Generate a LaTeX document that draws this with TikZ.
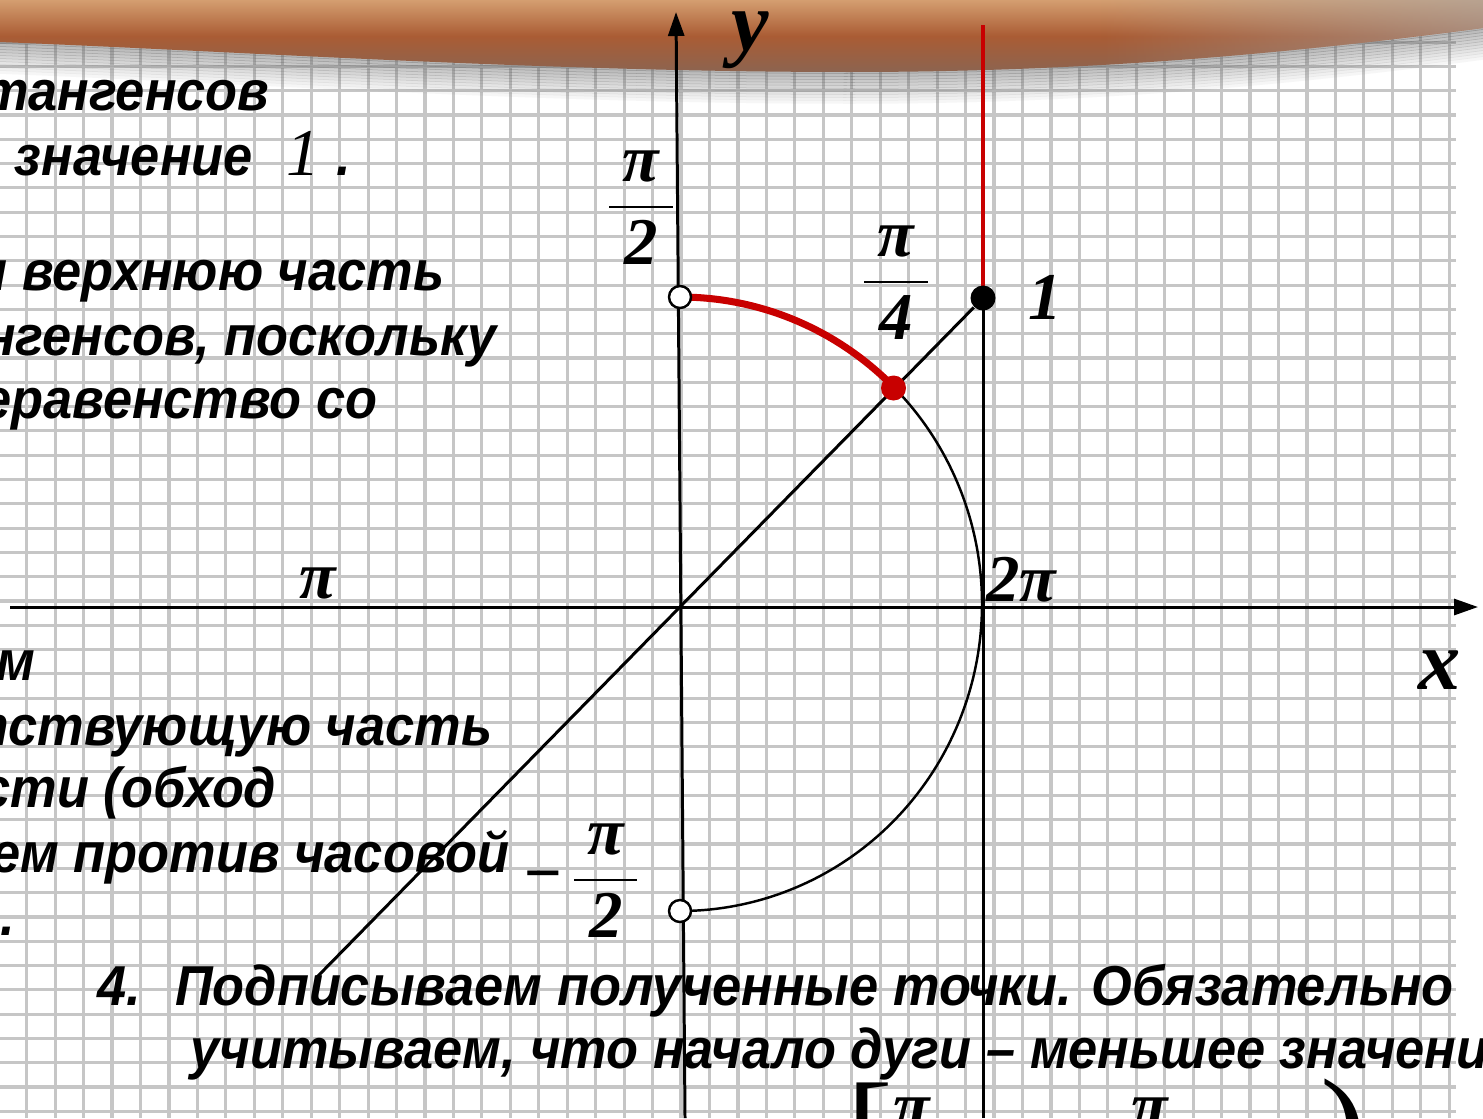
\documentclass[tikz,border=0pt]{standalone}
\usepackage{fontspec}
\setmainfont{Liberation Sans}
\newfontfamily\txtfont{Liberation Sans}[FakeStretch=0.93]
\newfontfamily\timesf{Liberation Serif}
\usetikzlibrary{arrows.meta,fadings}

\definecolor{bandTop}{RGB}{212,158,112}
\definecolor{bandMid}{RGB}{170,92,52}
\definecolor{bandLow}{RGB}{140,100,80}
\definecolor{shadowGray}{RGB}{95,95,95}
\definecolor{gridGray}{RGB}{198,198,198}
\definecolor{redLine}{RGB}{200,0,0}

\tikzfading[name=fadeToLeft, left color=transparent!100, right color=transparent!0]

% phân số dạng cột
\newcommand{\phanso}[2]{{\renewcommand{\arraystretch}{1.05}\setlength{\arrayrulewidth}{0.6pt}%
\begin{tabular}{@{\hspace{0.2em}}c@{\hspace{0.2em}}}#1\\\hline #2\end{tabular}}}

\begin{document}
\begin{tikzpicture}[>={Triangle[length=2.4mm,width=1.6mm]}, x=0.01cm, y=-0.01cm]
	
	% Định dạng các nét vẽ
	\tikzset{
		gridLine/.style={line width=0.9pt, gridGray},
		axisLine/.style={line width=0.85pt, black},
		thinLine/.style={line width=0.7pt, black},
		redArc/.style={line width=2pt, redLine},
		redRay/.style={line width=1.2pt, redLine},
		openDot/.style={circle, draw=black, fill=white, line width=0.7pt, minimum size=0.22cm, inner sep=0pt},
		fullDot/.style={circle, fill=#1, minimum size=0.25cm, inner sep=0pt},
		txt/.style={font=\txtfont\fontsize{16}{19}\selectfont\bfseries\itshape, inner sep=0pt},
		lbl/.style={font=\timesf\fontsize{19}{22}\selectfont\bfseries\itshape, inner sep=0pt},
		axLbl/.style={font=\timesf\fontsize{24}{28}\selectfont\bfseries\itshape, inner sep=0pt}
	}
	
	\useasboundingbox (0,0) rectangle (1483,1118);
	\clip (0,0) rectangle (1483,1118);
	\fill[white] (0,0) rectangle (1483,1118);
	
	% Lưới ô vuông (giấy kẻ ô)
	% Các đường dọc
	\foreach \i in {0,1,...,50} {
		\draw[gridLine] ({26.7+28.45*\i}, 0) -- ({26.7+28.45*\i}, 1118);
	}
	% Các đường ngang
	\foreach \j in {-4,-3,...,41} {
		\draw[gridLine] (0, {115+24.3*\j}) -- (1456, {115+24.3*\j});
	}
	
	% Dải màu nâu phía trên và bóng mờ của nó
	\foreach \k in {0,1,...,10} {
		\draw[line width=0.035cm, shadowGray, opacity={0.45-0.04*\k}, shift={(0,3*\k)}]
		(0,42) .. controls (250,52) and (550,72) .. (850,72) .. controls (1100,72) and (1300,52) .. (1483,28);
	}
	\shade[top color=bandTop, bottom color=bandLow, middle color=bandMid]
	(0,0) -- (1483,0) -- (1483,28) .. controls (1300,52) and (1100,72) .. (850,72)
	.. controls (550,72) and (250,52) .. (0,42) -- cycle;
	\fill[gray!70, path fading=fadeToLeft, opacity=0.6]
	(1100,0) -- (1483,0) -- (1483,28) .. controls (1350,45) and (1200,62) .. (1100,66) -- cycle;
	
	% Các điểm cố định
	\coordinate (O) at (680,607);
	\coordinate (Xl) at (10,607);
	\coordinate (Xr) at (1478,607);
	\coordinate (Yb) at (685,1118);
	\coordinate (Yt) at (676,12);
	\coordinate (Tb) at (983,1118);
	\coordinate (Tt) at (983,25);
	\coordinate (L) at (317,977);
	
	% Trục hoành và trục tung
	\draw[axisLine, ->] (Xl) -- (Xr);
	\draw[axisLine, ->] (Yb) -- (Yt);
	
	% Đường thẳng tang x = 1
	\draw[axisLine] (Tb) -- (983,298);
	\draw[redRay] (983,298) -- (Tt);
	
	% Nửa đường tròn bên phải (từ -pi/2 đến pi/2)
	\draw[thinLine, smooth, domain=-90:45, samples=120]
	plot ({680+302*cos(\x)}, {604-307*sin(\x)});
	% Cung đỏ từ pi/4 đến pi/2
	\draw[redArc, smooth, domain=45:90, samples=60]
	plot ({680+302*cos(\x)}, {604-307*sin(\x)});
	
	% Các điểm trên đường tròn và trên đường tang
	\node[openDot] (A) at (680,297) {};
	\node[openDot] (B) at (680,911) {};
	\node[fullDot=black] (T) at (983,298) {};
	
	% Tia từ gốc qua điểm 1 trên đường tang
	\draw[axisLine] (L) -- (T);
	\node[fullDot=redLine] (P) at (893.5,388) {};
	
	% Nhãn trục và nhãn các điểm
	\node[axLbl] (ly) at (750,40) {y};
	\node[axLbl] (lx) at (1440,670) {x};
	\node[lbl] (lA) at (641,207) {\phanso{π}{2}};
	\node[lbl] (lP) at (896,282) {\phanso{π}{4}};
	\node[lbl] (lB) at (580,880) {−\,\phanso{π}{2}};
	\node[lbl] (l1) at (1045,297) {1};
	\node[lbl] (lPi) at (318,583) {π};
	\node[lbl] (l2Pi) at (1021,580) {2π};
	
	% Đoạn chữ phía trái (bị cắt ở mép)
	\node[txt, anchor=base east] (t1) at (270,110) {тангенсов};
	\node[txt, anchor=base east] (t2) at (352,175) {и значение\hspace{0.6em}{\timesf\mdseries\itshape\fontsize{19}{22}\selectfont 1}\hspace{0.3em}.};
	\node[txt, anchor=base east] (t3) at (445,290) {и верхнюю часть};
	\node[txt, anchor=base east] (t4) at (497,355) {нгенсов, поскольку};
	\node[txt, anchor=base east] (t5) at (378,418) {еравенство со};
	\node[txt, anchor=base east] (s1) at (36,680) {м};
	\node[txt, anchor=base east] (s2) at (493,745) {тствующую часть};
	\node[txt, anchor=base east] (s3) at (277,807) {сти (обход};
	\node[txt, anchor=base east] (s4) at (510,872) {ем против часовой};
	\node[txt, anchor=base east] (s5) at (16,935) {).};
	
	% Đoạn chữ phía dưới
	\node[txt, anchor=base west] (b1) at (97,1005) {4.\hspace{0.6em}Подписываем полученные точки. Обязательно};
	\node[txt, anchor=base west] (b2) at (190,1068) {учитываем, что начало дуги – меньшее значени};
	\node[font=\timesf\fontsize{40}{46}\selectfont, inner sep=0pt, anchor=north west] (br1) at (846,1082) {[};
	\node[lbl, anchor=north] (pi1) at (912,1097) {π};
	\node[lbl, anchor=north] (pi2) at (1150,1097) {π};
	\node[font=\timesf\fontsize{40}{46}\selectfont, inner sep=0pt, anchor=north east] (br2) at (1368,1078) {)};
	
\end{tikzpicture}
\end{document}
